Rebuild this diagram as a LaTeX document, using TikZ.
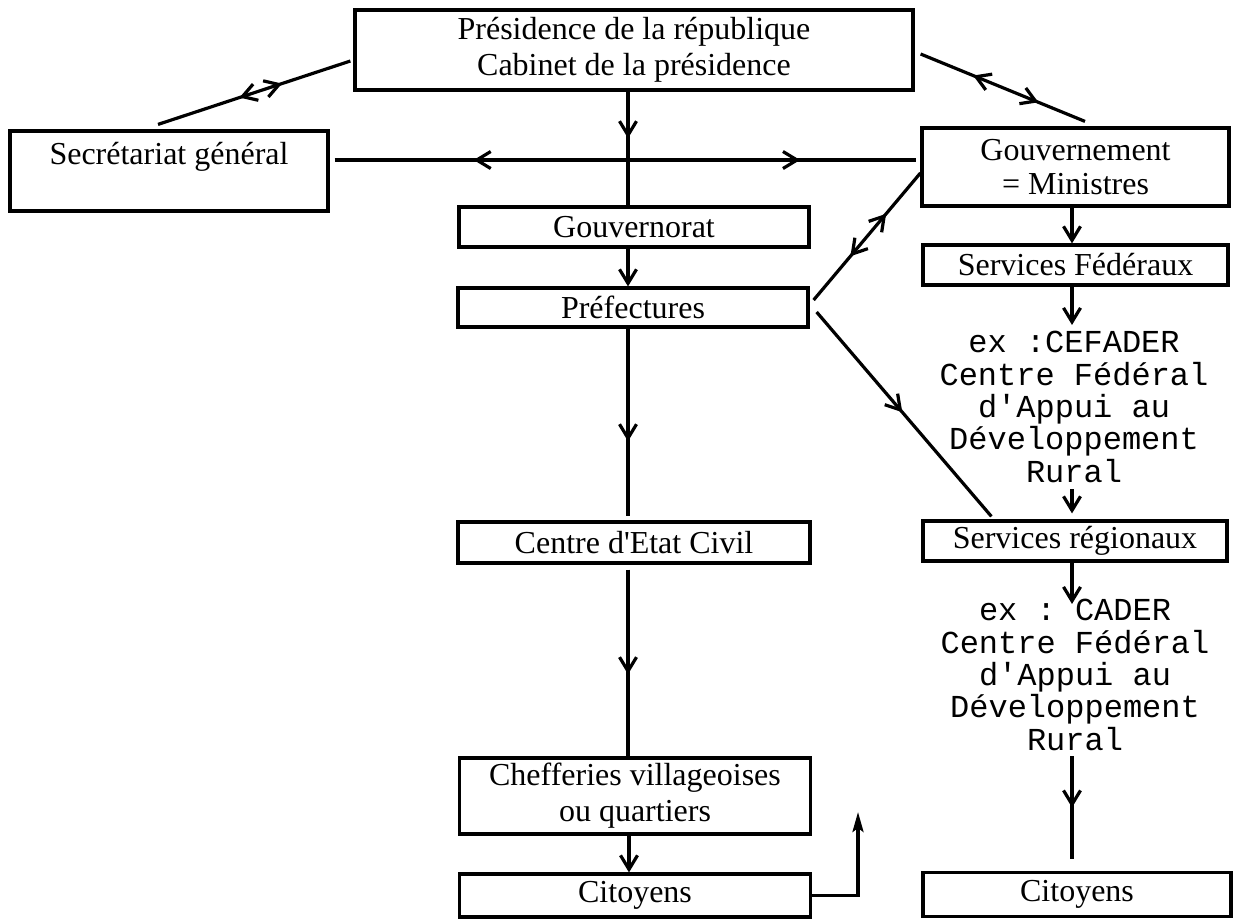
\documentclass[tikz,border=0pt]{standalone}
\usepackage{fontspec}
\setmainfont{Liberation Serif}
\setmonofont{Liberation Mono}
\usetikzlibrary{arrows.meta,decorations.markings}
\tikzset{
  ybarb/.tip={Straight Barb[length=7pt,width=8.5pt]},
  yfill/.tip={Stealth[length=10pt,width=5.5pt,inset=2pt]},
  box/.style={draw,line width=1.6pt,inner sep=0pt,align=center,font=\fontsize{16}{18}\selectfont},
  mono/.style={inner sep=0pt,align=center,font=\ttfamily\fontsize{16}{16.2}\selectfont},
  conn/.style={line width=1.6pt},
  midf/.style={postaction={decorate},decoration={markings,mark=at position #1 with {\arrow{ybarb}}}},
  bothway/.style 2 args={postaction={decorate},decoration={markings,
      mark=at position #1 with {\arrowreversed{ybarb}},
      mark=at position #2 with {\arrow{ybarb}}}},
}
\begin{document}
\begin{tikzpicture}[x=0.5pt,y=-0.5pt]
\useasboundingbox (0,0) rectangle (1234,918);
% boxes
\node[box,minimum width=279pt,minimum height=40pt] (pres) at (634,50)
  {Présidence de la république\\Cabinet de la présidence};
\node[box,minimum width=159pt,minimum height=40pt] (sec) at (169,171)
  {Secrétariat général\\\mbox{}};
\node[box,minimum width=153.5pt,minimum height=39pt,font=\fontsize{16}{17}\selectfont] (gouv) at (1075.5,167)
  {Gouvernement\\= Ministres};
\node[box,minimum width=175pt,minimum height=20pt] (gvt) at (634,227) {Gouvernorat};
\node[box,minimum width=152.5pt,minimum height=20pt] (sf) at (1075.5,265) {Services Fédéraux};
\node[box,minimum width=175pt,minimum height=19.5pt] (pref) at (633,307.5) {Préfectures};
\node[mono,inner sep=3pt] (cef) at (1074,407)
  {ex :CEFADER\\Centre Fédéral\\d'Appui au\\Développement\\Rural};
\node[box,minimum width=176pt,minimum height=20.5pt] (cec) at (634,542.5) {Centre d\textquotesingle Etat Civil};
\node[box,minimum width=152pt,minimum height=20pt] (sr) at (1075,541) {Services régionaux};
\node[mono] (cader) at (1075,675)
  {ex : CADER\\Centre Fédéral\\d'Appui au\\Développement\\Rural};
\node[box,minimum width=175.5pt,minimum height=38pt] (chef) at (635,796)
  {Chefferies villageoises\\ou quartiers};
\node[box,minimum width=175.5pt,minimum height=21.5pt] (cit1) at (635,895.5) {Citoyens};
\node[box,minimum width=154pt,minimum height=22pt] (cit2) at (1077,894.5) {Citoyens};
\coordinate (up) at (858,812);
% connectors
\draw[conn,bothway={0.356}{0.577}] ([xshift=-1.5pt,yshift=-5.5pt]pres.west) -- ([xshift=-5.5pt,yshift=2.5pt]sec.north);
\draw[conn,midf=0.41] ([xshift=-3pt]pres.south) -- ([xshift=-3pt]gvt.north);
\draw[conn,bothway={0.239}{0.80}] ([xshift=2.5pt,yshift=5.5pt]sec.east) -- ([xshift=-2pt,yshift=3.5pt]gouv.west);
\draw[conn,bothway={0.32}{0.717}] ([xshift=3pt,yshift=-2pt]pres.east) -- ([xshift=4.75pt,yshift=2.5pt]gouv.north);
\draw[conn,-ybarb] ([xshift=-1.75pt]gouv.south) -- ([xshift=-1.75pt]sf.north);
\draw[conn,-ybarb] ([xshift=-1.75pt]sf.south) -- ([xshift=-1pt]cef.north);
\draw[conn,-ybarb] ([xshift=-1pt]cef.south) -- ([xshift=-1.5pt,yshift=3pt]sr.north);
\draw[conn,bothway={0.345}{0.68}] ([xshift=2pt,yshift=3.75pt]pref.east) -- ([yshift=-3pt]gouv.west);
\draw[conn,midf=0.49] ([xshift=3.5pt,yshift=-2.25pt]pref.east) -- ([xshift=35pt,yshift=1.5pt]sr.north west);
\draw[conn,-ybarb] ([xshift=-3pt]gvt.south) -- ([xshift=-2.5pt]pref.north);
\draw[conn,midf=0.60] ([xshift=-2.5pt]pref.south) -- ([xshift=-3pt,yshift=2pt]cec.north);
\draw[conn,midf=0.56] ([xshift=-3pt,yshift=-2.5pt]cec.south) -- ([xshift=-3.5pt]chef.north);
\draw[conn,-ybarb] ([xshift=-3pt]chef.south) -- ([xshift=-3pt]cit1.north);
\draw[conn,-yfill] (cit1.east) -| (up);
\draw[conn,-ybarb] ([xshift=-1.5pt]sr.south) -- ([xshift=-1.5pt,yshift=-2.5pt]cader.north);
\draw[conn,midf=0.5] ([xshift=-1.5pt,yshift=-2.5pt]cader.south) -- ([xshift=-2.5pt,yshift=6pt]cit2.north);
\end{tikzpicture}
\end{document}
